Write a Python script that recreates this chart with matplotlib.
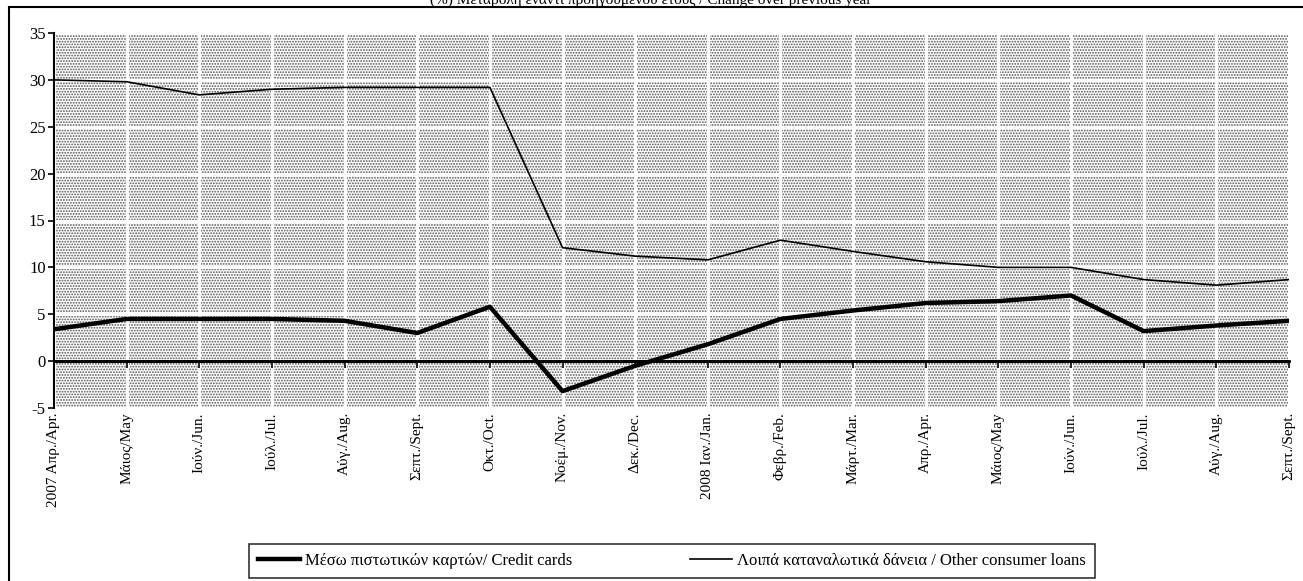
import matplotlib
matplotlib.use('Agg')
import matplotlib.pyplot as plt
from matplotlib.patches import Rectangle

months = ['2007 Απρ./Apr.', 'Μάιος/May', 'Ιούν./Jun.', 'Ιούλ./Jul.', 'Αύγ./Aug.',
          'Σεπτ./Sept.', 'Οκτ./Oct.', 'Νοέμ./Nov.', 'Δεκ./Dec.', '2008 Ιαν./Jan.',
          'Φεβρ./Feb.', 'Μάρτ./Mar.', 'Απρ./Apr.', 'Μάιος/May', 'Ιούν./Jun.',
          'Ιούλ./Jul.', 'Αύγ./Aug.', 'Σεπτ./Sept.']
credit_cards = [3.4, 4.5, 4.5, 4.5, 4.3, 3.0, 5.8, -3.2, -0.5, 1.8,
                4.5, 5.4, 6.2, 6.4, 7.0, 3.2, 3.8, 4.3]
other_loans = [30.0, 29.8, 28.4, 29.0, 29.2, 29.2, 29.2, 12.1, 11.2, 10.8,
               12.9, 11.7, 10.6, 10.0, 10.0, 8.7, 8.1, 8.7]
yticks = [-5, 0, 5, 10, 15, 20, 25, 30, 35]

title = '(%) Μεταβολή έναντι προηγούμενου έτους / Change over previous year'
label_cc = 'Μέσω πιστωτικών καρτών/ Credit cards'
label_ol = 'Λοιπά καταναλωτικά δάνεια / Other consumer loans'

plt.rcParams['font.family'] = ['Liberation Serif', 'DejaVu Serif']
plt.rcParams['axes.unicode_minus'] = False
plt.rcParams['hatch.linewidth'] = 0.9
plt.rcParams['hatch.color'] = '#555555'

fig = plt.figure(figsize=(13.03, 5.81), dpi=100)
ax = fig.add_axes([54 / 1303, 1 - 408 / 581, (1289 - 54) / 1303, (408 - 33) / 581])

x = list(range(len(months)))

# dotted background
bg = Rectangle((0, 0), 1, 1, transform=ax.transAxes, facecolor='white',
               edgecolor='#555555', hatch='......', lw=0, zorder=0)
ax.add_patch(bg)
ax.patch.set_visible(False)

for xi in x:
    ax.axvline(xi, color='white', lw=2.2, zorder=1)
for yv in yticks:
    ax.axhline(yv, color='white', lw=2.2, zorder=1)
ax.axhline(0, color='black', lw=2, zorder=2)

ax.plot(x, credit_cards, color='black', lw=3.2, label=label_cc, zorder=3)
ax.plot(x, other_loans, color='black', lw=1.2, label=label_ol, zorder=3)

ax.set_xlim(0, len(months) - 1)
ax.set_ylim(-5, 35)
ax.set_yticks(yticks)
ax.tick_params(axis='y', labelsize=12, length=4, width=1.2, direction='out', pad=2)

for s in ['top', 'right']:
    ax.spines[s].set_visible(False)
ax.spines['left'].set_linewidth(1.5)
ax.spines['bottom'].set_position(('data', 0))
ax.spines['bottom'].set_linewidth(2)
ax.set_xticks(x)
ax.tick_params(axis='x', length=5, width=1.2, direction='out', labelbottom=False)

sec = ax.secondary_xaxis(0)
sec.set_xticks(x)
sec.set_xticklabels(months, rotation=90, fontsize=11)
sec.tick_params(length=0, pad=3)
sec.spines['bottom'].set_visible(False)

fig.text(0.499, 1.0, title, ha='center', va='center', fontsize=11)

frame = Rectangle((9 / 1303, -0.02), 1.0, 1.02 - 7 / 581, transform=fig.transFigure,
                  fill=False, edgecolor='black', lw=1.5)
fig.patches.append(frame)

leg = fig.legend(loc='lower left',
                 bbox_to_anchor=(249 / 1303, 1 - 578 / 581, (1095 - 249) / 1303, 41 / 581),
                 mode='expand', ncol=2, fontsize=12, frameon=True, fancybox=False,
                 edgecolor='black', handlelength=2.5, columnspacing=0.8,
                 handletextpad=0.3, borderpad=0.55, borderaxespad=0)
leg.get_frame().set_linewidth(1.2)

fig.savefig('out.png', dpi=100)
